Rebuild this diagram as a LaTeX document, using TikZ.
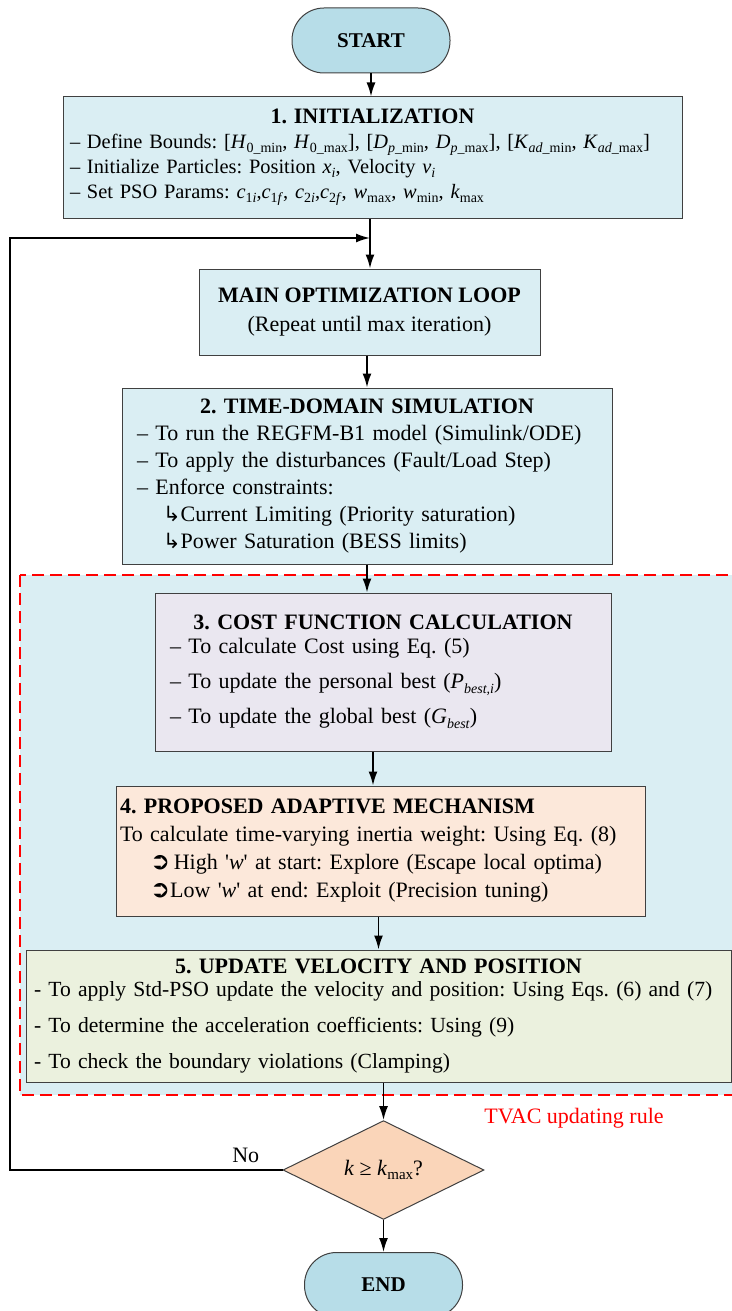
\documentclass[tikz,border=0pt]{standalone}
\usepackage{fontspec}
\setmainfont{Liberation Serif}
\newfontfamily\symfont{DejaVu Sans}
\usetikzlibrary{arrows.meta,
		shapes.geometric}
\frenchspacing

\definecolor{boxblue}{RGB}{218,238,243}
\definecolor{termblue}{RGB}{183,221,232}
\definecolor{costgray}{RGB}{234,231,240}
\definecolor{adaptpeach}{RGB}{252,232,218}
\definecolor{updgreen}{RGB}{235,241,222}
\definecolor{decpeach}{RGB}{250,213,185}
\definecolor{boxline}{RGB}{64,64,64}

% italic symbol with small subscript
\newcommand{\varsub}[3][7pt]{\textit{#2}\raisebox{-0.45ex}{\fontsize{#1}{#1}\selectfont #3}}
\newcommand{\hookarr}{{\symfont\fontsize{10.5pt}{10pt}\selectfont ↳}}
\newcommand{\pointer}{{\symfont\fontsize{12pt}{10pt}\selectfont ➲}}

\tikzset{
	box/.style = {draw=boxline, line width=0.5pt, inner ysep=2pt, align=left},
	term/.style = {draw=boxline, line width=0.5pt, fill=termblue, rounded corners=16pt,
		minimum width=79pt, minimum height=32.5pt, font=\fontsize{10.5pt}{12pt}\selectfont\bfseries},
	decision/.style = {diamond, draw=boxline, line width=0.5pt, fill=decpeach, inner sep=0pt,
		minimum width=100.5pt, minimum height=47pt},
	arrow/.style = {-{Latex[length=7pt, width=4.5pt]}, line width=0.85pt},
	line/.style = {line width=0.85pt}
}

\begin{document}
\begin{tikzpicture}[x=0.5pt, y=-0.5pt, font=\fontsize{11pt}{12.5pt}\selectfont]

\useasboundingbox (0,0) rectangle (732,1311);

% TVAC region
\filldraw [fill=boxblue, draw=red, line width=0.7pt, dash pattern=on 6pt off 3pt] (20,575) rectangle (745,1095);
\node [text=red] (tvac) at (574,1118) {TVAC updating rule};

% start and end
\node [term] (start) at (371,40.5) {START};
\node [term] (end) at (383.5,1285) {END};

% steps
\node [box, fill=boxblue, minimum width=309.5pt, minimum height=60.5pt, text width=302.5pt, inner xsep=3.5pt, font=\fontsize{10.2pt}{12.5pt}\selectfont] (init) at (372.5,157.5)
	{\makebox[\linewidth]{\fontsize{11pt}{12.5pt}\selectfont\textbf{1. INITIALIZATION}}\\
	– Define Bounds: [\varsub{H}{0\_min}, \varsub{H}{0\_max}], [\varsub{D}{\textit{p}\_min}, \varsub{D}{\textit{p}\_max}], [\varsub{K}{\textit{ad}\_min}, \varsub{K}{\textit{ad}\_max}]\\
	– Initialize Particles: Position \varsub{x}{\textit{i}}, Velocity \varsub{v}{\textit{i}}\\
	– Set PSO Params: \varsub{c}{1\textit{i}},\varsub{c}{1\textit{f}}, \varsub{c}{2\textit{i}},\varsub{c}{2\textit{f}}, \varsub{w}{max}, \varsub{w}{min}, \varsub{k}{max}};

\node [box, fill=boxblue, minimum width=170.5pt, minimum height=43pt, align=center, font=\fontsize{11pt}{14.5pt}\selectfont] (main) at (369.5,312)
	{\textbf{MAIN OPTIMIZATION LOOP}\\(Repeat until max iteration)};

\node [box, fill=boxblue, minimum width=245pt, minimum height=88pt, text width=230pt, inner xsep=7.5pt, font=\fontsize{11pt}{13.5pt}\selectfont] (sim) at (367,476)
	{\makebox[\linewidth]{\textbf{2. TIME-DOMAIN SIMULATION}}\\
	– To run the REGFM-B1 model (Simulink/ODE)\\
	– To apply the disturbances (Fault/Load Step)\\
	– Enforce constraints:\\
	\hspace*{13pt}\hookarr Current Limiting (Priority saturation)\\
	\hspace*{13pt}\hookarr Power Saturation (BESS limits)};

\node [box, fill=costgray, minimum width=228pt, minimum height=79pt, text width=213pt, inner xsep=7.5pt, font=\fontsize{11pt}{12pt}\selectfont] (cost) at (383,672)
	{\makebox[\linewidth]{\textbf{3. COST FUNCTION CALCULATION}}\\
	– To calculate Cost using Eq. (5)\\[5.5pt]
	– To update the personal best (\varsub{P}{\textit{best,i}})\\[5.5pt]
	– To update the global best (\varsub{G}{\textit{best}})};

\node [box, fill=adaptpeach, minimum width=264.5pt, minimum height=65pt, text width=260.5pt, inner xsep=2pt, font=\fontsize{11pt}{14pt}\selectfont] (adapt) at (380.5,851)
	{\textbf{4. PROPOSED ADAPTIVE MECHANISM}\\
	To calculate time-varying inertia weight: Using Eq. (8)\\
	\hspace*{15pt}\pointer\,High \textquotesingle\textit{w}\textquotesingle{} at start: Explore (Escape local optima)\\
	\hspace*{15pt}\pointer Low \textquotesingle\textit{w}\textquotesingle{} at end: Exploit (Precision tuning)};

\node [box, fill=updgreen, minimum width=352.5pt, minimum height=66pt, text width=344.5pt, inner xsep=4pt, font=\fontsize{10.8pt}{11.5pt}\selectfont] (update) at (378.5,1016)
	{\makebox[\linewidth]{\fontsize{11pt}{11.5pt}\selectfont\textbf{5. UPDATE VELOCITY AND POSITION}}\\
	- To apply Std-PSO update the velocity and position: Using Eqs. (6) and (7)\\[6.5pt]
	- To determine the acceleration coefficients: Using (9)\\[6.5pt]
	- To check the boundary violations (Clamping)};

\node [decision] (check) at (383.5,1170) {\textit{k} ≥ \varsub[7.5pt]{k}{max}?};

% connectors
\coordinate (join) at (370,238);
\coordinate (corner) at (10,1170);

\draw [arrow] (start.south) -- (init.north -| start.south);
\draw [line] (init.south -| join) -- (join);
\draw [arrow] (join) -- (main.north -| join);
\draw [arrow] (main.south -| sim.north) -- (sim.north);
\draw [arrow] (sim.south) -- (sim.south |- cost.north);
\draw [arrow] ([xshift=-5pt]cost.south) -- ([xshift=-5pt]cost.south |- adapt.north);
\draw [arrow] (adapt.south -| update.north) -- (update.north);
\draw [arrow] (update.south -| check.north) -- (check.north);
\draw [arrow] (check.south) -- (end.north);

% loop back
\draw [arrow] (check.west) -- node[pos=0.135, above, inner sep=3pt] (no) {No} (corner) |- (join);

\end{tikzpicture}
\end{document}
